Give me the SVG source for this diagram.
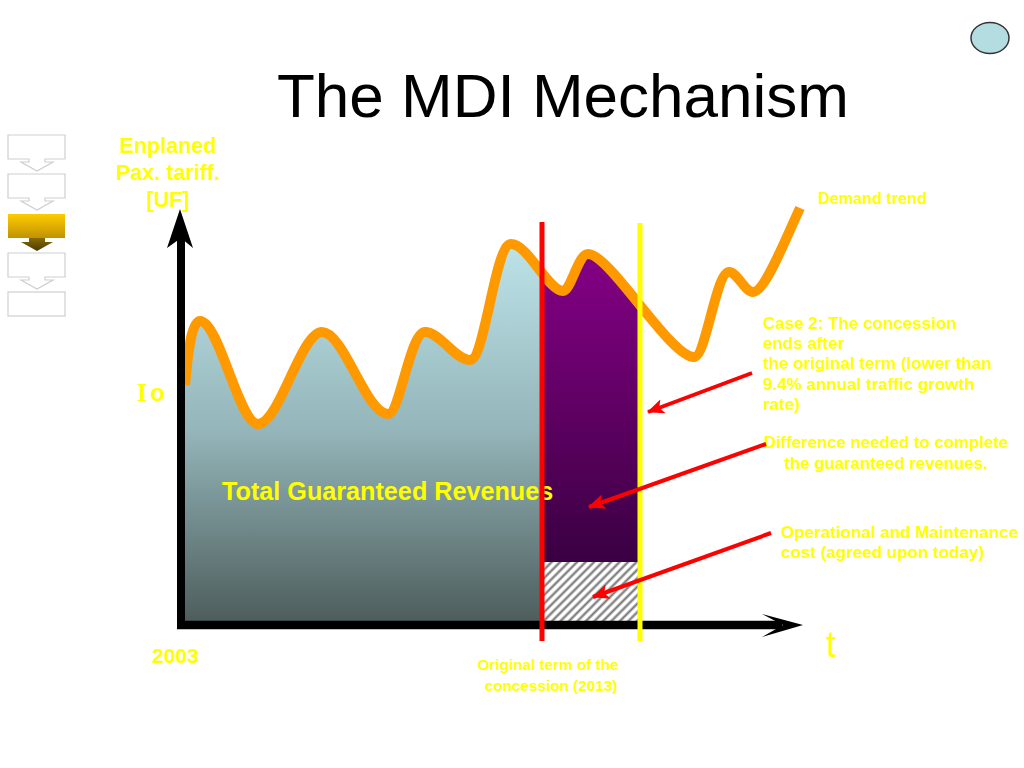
<svg xmlns="http://www.w3.org/2000/svg" width="1024" height="768" viewBox="0 0 1024 768">
<defs>
<style>
.y{fill:#ffff00;font-family:"Liberation Sans",Arial,sans-serif;font-weight:bold}
.nav{fill:#ffffff;stroke:#cfcfcf;stroke-width:1.2}
.ann{stroke:#ff0000;stroke-width:4;fill:none;marker-end:url(#ra)}
</style>
<linearGradient id="gBlue" gradientUnits="userSpaceOnUse" x1="0" y1="240" x2="0" y2="622">
<stop offset="0" stop-color="#bde4ea"/><stop offset="0.5" stop-color="#94b5b9"/><stop offset="1" stop-color="#4d5d5c"/>
</linearGradient>
<linearGradient id="gPurp" gradientUnits="userSpaceOnUse" x1="0" y1="250" x2="0" y2="562">
<stop offset="0" stop-color="#860086"/><stop offset="1" stop-color="#3a0042"/>
</linearGradient>
<linearGradient id="gGold" x1="0" y1="0" x2="0" y2="1">
<stop offset="0" stop-color="#ffcc00"/><stop offset="1" stop-color="#c09200"/>
</linearGradient>
<linearGradient id="gBrown" x1="0" y1="0" x2="0" y2="1">
<stop offset="0" stop-color="#8a6c00"/><stop offset="1" stop-color="#4a3a00"/>
</linearGradient>
<pattern id="hatch" patternUnits="userSpaceOnUse" width="6" height="6" patternTransform="rotate(45)">
<rect width="6" height="6" fill="#ffffff"/>
<line x1="1.5" y1="0" x2="1.5" y2="6" stroke="#777777" stroke-width="2.2"/>
</pattern>
<clipPath id="cBlue"><rect x="177" y="0" width="365" height="622"/></clipPath>
<clipPath id="cPurp"><rect x="542" y="0" width="98" height="562"/></clipPath>
<marker id="ra" viewBox="0 0 17 15" markerWidth="17" markerHeight="15" refX="16" refY="7.5" markerUnits="userSpaceOnUse" orient="auto">
<path d="M0,0 L17,7.5 L0,15 L4,7.5 Z" fill="#ff0000"/>
</marker>
<path id="area" d="M185,622 L185,385 C188,350 192,321 200,321 C219,321 239,424 258,424 C279,424 301,332 322,332 C344,332 366,414 388,414 C400,414 410,332 425,332 C440,332 455,360 470,360 C485,360 495,244 511,244 C528,244 548,291 563,291 C571,291 578,254 588,254 C610,254 670,357 694,357 L694,622 Z"/>
</defs>
<rect width="1024" height="768" fill="#ffffff"/>

<g id="nav">
<path class="nav" d="M8,135 H65 V159 H45 V162 H53 L37,171 L21,162 H29 V159 H8 Z"/>
<path class="nav" d="M8,174 H65 V198 H45 V201 H53 L37,210 L21,201 H29 V198 H8 Z"/>
<rect x="8" y="214" width="57" height="24" fill="url(#gGold)"/>
<path d="M29,238 H45 V242 H53 L37,251 L21,242 H29 Z" fill="url(#gBrown)"/>
<path class="nav" d="M8,253 H65 V277 H45 V280 H53 L37,289 L21,280 H29 V277 H8 Z"/>
<rect class="nav" x="8" y="292" width="57" height="24"/>
</g>

<ellipse id="badge" cx="990" cy="38" rx="19" ry="15.5" fill="#b3dde0" stroke="#333333" stroke-width="1.5"/>

<text id="title" x="277" y="117" font-family="'Liberation Sans',Arial,sans-serif" font-size="62" fill="#000000">The MDI Mechanism</text>

<g id="areas">
<use href="#area" fill="url(#gBlue)" clip-path="url(#cBlue)"/>
<use href="#area" fill="url(#gPurp)" clip-path="url(#cPurp)"/>
<rect x="542" y="562" width="98" height="59" fill="url(#hatch)"/>
</g>

<path id="demand" d="M185,385 C188,350 192,321 200,321 C219,321 239,424 258,424 C279,424 301,332 322,332 C344,332 366,414 388,414 C400,414 410,332 425,332 C440,332 455,360 470,360 C485,360 495,244 511,244 C528,244 548,291 563,291 C571,291 578,254 588,254 C610,254 670,357 694,357 C706,357 716,272 729,272 C737,272 745,292 753,292 C765,292 785,240 800,208" fill="none" stroke="#ff9900" stroke-width="10" stroke-linejoin="round"/>

<g id="labels">
<text class="y" font-size="21.5" text-anchor="middle"><tspan x="168" y="153">Enplaned</tspan><tspan x="168" y="180">Pax. tariff.</tspan><tspan x="168" y="207">[UF]</tspan></text>
<text class="y" x="137" y="401" font-size="26"><tspan font-family="'Liberation Serif',serif">I</tspan><tspan dx="3" font-size="24">o</tspan></text>
<text class="y" x="222" y="500" font-size="25.2">Total Guaranteed Revenues</text>
<text class="y" x="152" y="663" font-size="21">2003</text>
<text x="826" y="657" font-family="'Liberation Sans',Arial,sans-serif" font-size="36" fill="#ffff00">t</text>
<text class="y" x="818" y="204" font-size="16.2">Demand trend</text>
<text class="y" font-size="17"><tspan x="763" y="329">Case 2: The concession</tspan><tspan x="763" y="349">ends after</tspan><tspan x="763" y="369">the original term (lower than</tspan><tspan x="763" y="390">9.4% annual traffic growth</tspan><tspan x="763" y="410">rate)</tspan></text>
<text class="y" font-size="16.8" text-anchor="middle"><tspan x="886" y="448">Difference needed to complete</tspan><tspan x="886" y="469">the guaranteed revenues.</tspan></text>
<text class="y" font-size="17"><tspan x="781" y="538">Operational and Maintenance</tspan><tspan x="781" y="558">cost (agreed upon today)</tspan></text>
<text class="y" font-size="15.3" text-anchor="middle"><tspan x="548" y="670">Original term of the</tspan><tspan x="551" y="691">concession (2013)</tspan></text>
</g>

<g id="axes">
<line x1="181" y1="628" x2="181" y2="236" stroke="#000000" stroke-width="8"/>
<path d="M180,209 L193,248 L181,238 L167,248 Z" fill="#000000"/>
<line x1="177" y1="625" x2="782" y2="625" stroke="#000000" stroke-width="8.5"/>
<path d="M803,625 L762,614 L783,625 L762,637 Z" fill="#000000"/>
</g>

<g id="markers">
<line x1="542" y1="222" x2="542" y2="641" stroke="#ff0000" stroke-width="5"/>
<line x1="640" y1="223" x2="640" y2="641" stroke="#ffff00" stroke-width="5"/>
</g>

<g id="connectors">
<line class="ann" x1="752" y1="373" x2="648" y2="412"/>
<line class="ann" x1="766" y1="444" x2="589" y2="507"/>
<line class="ann" x1="771" y1="533" x2="593" y2="597"/>
</g>
</svg>
